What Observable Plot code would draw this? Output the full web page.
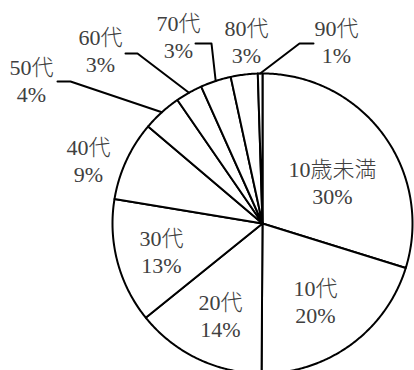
<!DOCTYPE html>
<html><head><meta charset="utf-8">
<script src="https://cdn.jsdelivr.net/npm/d3@7"></script>
<script src="https://cdn.jsdelivr.net/npm/@observablehq/plot@0.6"></script>
<style>html,body{margin:0;padding:0;background:#fff;overflow:hidden}</style>
</head><body><div id="chart"></div>
<script>
// ---- data ----
const categories = ["10歳未満","10代","20代","30代","40代","50代","60代","70代","80代","90代"];
const values = [29.8, 20.3, 14.1, 13.4, 8.6, 4.2, 2.9, 3.3, 2.9, 0.5];
const percentLabels = ["30%","20%","14%","13%","9%","4%","3%","3%","3%","1%"];

// ---- layout (pixels) ----
const W = 414, H = 370, CX = 262, CY = 223, R = 150;
const labelCenters = [[332,181],[315,300],[220,314],[161,250],[88,159],[31,79],[100,49],[178,35],[246,40],[336,40]];
const leaderBends = {5: [[57,81],[70,81]], 6: [[125,53],[137,53]], 7: [[195,43],[211,43]], 9: [[313,43],[299,43]]};

const ux = px => (px - CX) / R;
const uy = py => (CY - py) / R;

const arcs = d3.pie().sort(null).value(d => d)(values);

// slice polygons
const slicePts = [];
arcs.forEach((a, i) => {
  const key = categories[i];
  slicePts.push({key, x: 0, y: 0});
  const n = Math.max(2, Math.ceil((a.endAngle - a.startAngle) / 0.01));
  for (let k = 0; k <= n; k++) {
    const t = a.startAngle + (a.endAngle - a.startAngle) * k / n;
    slicePts.push({key, x: Math.sin(t), y: Math.cos(t)});
  }
  slicePts.push({key, x: 0, y: 0});
});

// leader lines
const leaderPts = [];
Object.entries(leaderBends).forEach(([i, pts]) => {
  const a = arcs[+i];
  const mid = (a.startAngle + a.endAngle) / 2;
  pts.forEach(([px, py]) => leaderPts.push({key: categories[i], x: ux(px), y: uy(py)}));
  leaderPts.push({key: categories[i], x: Math.sin(mid), y: Math.cos(mid)});
});

// labels
const labels = categories.map((c, i) => ({
  text: c + "\n" + percentLabels[i],
  x: ux(labelCenters[i][0]),
  y: uy(labelCenters[i][1])
}));

const fontFamily = '"Liberation Serif", "Times New Roman", "Noto Sans CJK JP", serif';

const chart = Plot.plot({
  width: W, height: H,
  marginTop: 0, marginRight: 0, marginBottom: 0, marginLeft: 0,
  x: {domain: [ux(0), ux(W)], axis: null},
  y: {domain: [uy(H), uy(0)], axis: null},
  style: {fontFamily, background: "#fff", overflow: "visible"},
  marks: [
    Plot.line(slicePts, {x: "x", y: "y", z: "key", fill: "white", stroke: "black", strokeWidth: 2, strokeLinejoin: "round", curve: "linear"}),
    Plot.line(leaderPts, {x: "x", y: "y", z: "key", stroke: "black", strokeWidth: 2, curve: "linear"}),
    Plot.text(labels, {x: "x", y: "y", text: "text", fontSize: 22, lineHeight: 1.22, fill: "#404040", fontFamily, fontWeight: 300})
  ]
});
document.getElementById("chart").append(chart);
</script>
</body></html>
